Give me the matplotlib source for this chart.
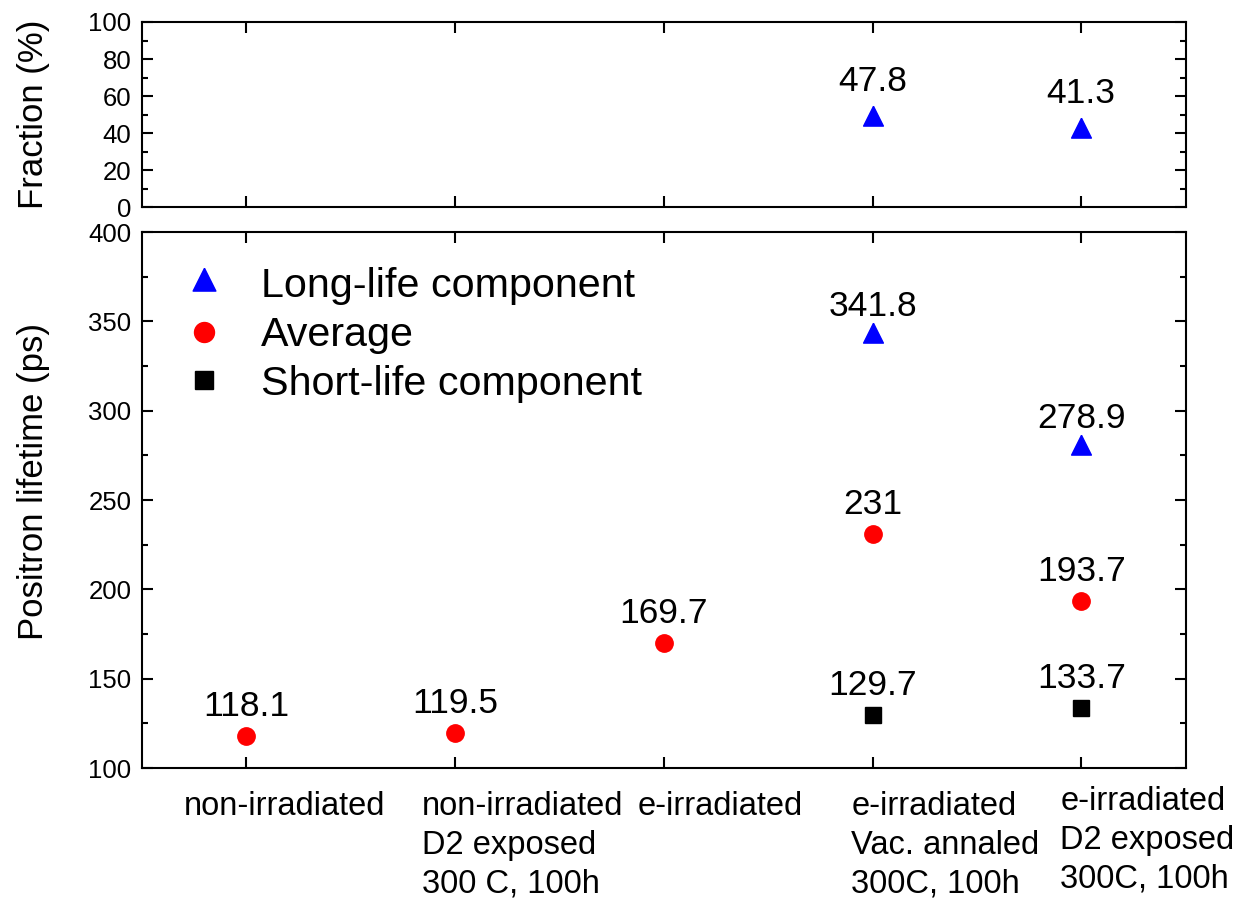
import numpy as np
import matplotlib
matplotlib.use("Agg")
import matplotlib.pyplot as plt
from matplotlib.ticker import MultipleLocator

plt.rcParams['font.family'] = ['Liberation Sans', 'DejaVu Sans']

# данные
categories = ["non-irradiated",
              "non-irradiated\nD2 exposed\n300 C, 100h",
              "e-irradiated",
              "e-irradiated\nVac. annaled\n300C, 100h",
              "e-irradiated\nD2 exposed\n300C, 100h"]
pos = np.arange(len(categories))

avg_x = [0, 1, 2, 3, 4]
avg_val = [118.1, 119.5, 169.7, 231, 193.7]
avg_txt = ["118.1", "119.5", "169.7", "231", "193.7"]

long_x = [3, 4]
long_val = [341.8, 278.9]
short_x = [3, 4]
short_val = [129.7, 133.7]
frac_x = [3, 4]
frac_val = [47.8, 41.3]

# треугольник с центром тяжести в точке данных (как в Origin)
tri = [(0, 2/3), (-0.5, -1/3), (0.5, -1/3), (0, 2/3)]

fig = plt.figure(figsize=(12.35, 9.01), dpi=100)
ax1 = fig.add_axes([0.115, 0.770, 0.845, 0.2056])
ax2 = fig.add_axes([0.115, 0.1476, 0.845, 0.5949])

for ax in (ax1, ax2):
    ax.set_xlim(-0.5, 4.5)
    ax.set_xticks(pos)
    ax.set_xticklabels([])
    for s in ax.spines.values():
        s.set_linewidth(1.5)
    ax.tick_params(which='both', direction='in', top=True, right=True, width=1.5)
    ax.tick_params(which='major', length=8, labelsize=18.5, pad=7.5)
    ax.tick_params(which='minor', length=4)
    ax.tick_params(axis='x', which='minor', bottom=False, top=False)

# верхняя панель
ax1.set_ylim(0, 100)
ax1.yaxis.set_major_locator(MultipleLocator(20))
ax1.yaxis.set_minor_locator(MultipleLocator(10))
ax1.plot(frac_x, frac_val, linestyle='none', marker=tri, ms=19, color='blue', mec='blue')
for x, v in zip(frac_x, frac_val):
    ax1.annotate(f"{v}", (x, v), xytext=(0, 20), textcoords='offset points',
                 ha='center', va='baseline', fontsize=25.5)
ax1.set_ylabel("Fraction (%)", fontsize=25)
ax1.yaxis.set_label_coords(-0.088, 0.5)

# нижняя панель
ax2.set_ylim(100, 400)
ax2.yaxis.set_major_locator(MultipleLocator(50))
ax2.yaxis.set_minor_locator(MultipleLocator(25))
ax2.plot(long_x, long_val, linestyle='none', marker=tri, ms=19, color='blue',
         label="Long-life component")
ax2.plot(avg_x, avg_val, linestyle='none', marker='o', ms=12.5, color='red',
         label="Average")
ax2.plot(short_x, short_val, linestyle='none', marker='s', ms=11, color='black',
         label="Short-life component")

for x, v in zip(long_x, long_val):
    ax2.annotate(f"{v}", (x, v), xytext=(0, 14.4), textcoords='offset points',
                 ha='center', va='baseline', fontsize=25.5)
for x, v, t in zip(avg_x, avg_val, avg_txt):
    ax2.annotate(t, (x, v), xytext=(0, 14.4), textcoords='offset points',
                 ha='center', va='baseline', fontsize=25.5)
for x, v in zip(short_x, short_val):
    ax2.annotate(f"{v}", (x, v), xytext=(0, 14.4), textcoords='offset points',
                 ha='center', va='baseline', fontsize=25.5)

ax2.set_ylabel("Positron lifetime (ps)", fontsize=25)
ax2.yaxis.set_label_coords(-0.088, 0.535)

ax2.legend(loc='upper left', bbox_to_anchor=(0.040, 0.934), frameon=False,
           fontsize=29.7, borderpad=0, borderaxespad=0, handlelength=1.0,
           handletextpad=0.87, labelspacing=0.26, markerscale=1.15)

# подписи категорий (выровнены влево, как в оригинале)
label_x = [-0.30, 0.842, 1.873, 2.899, 3.900]
label_y = [-0.043, -0.043, -0.043, -0.043, -0.033]
trans = ax2.get_xaxis_transform()
for lx, ly, lab in zip(label_x, label_y, categories):
    ax2.text(lx, ly, lab, transform=trans, ha='left', va='top', fontsize=23.5,
             linespacing=1.33)

fig.savefig("out.png", dpi=100)
